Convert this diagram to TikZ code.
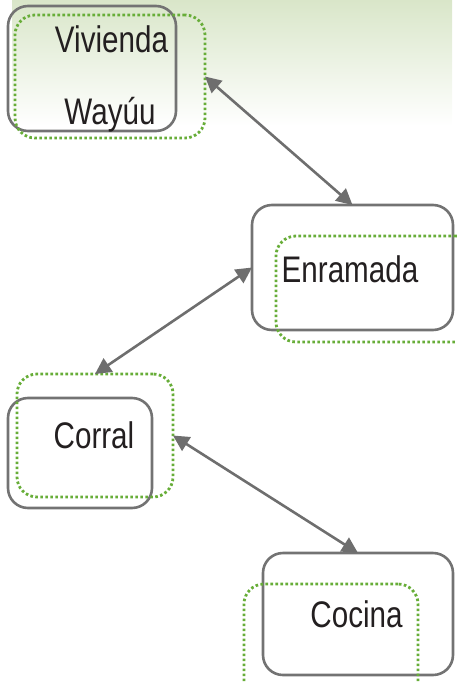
\documentclass[tikz,border=0pt]{standalone}
\usepackage{fontspec}
\usetikzlibrary{arrows.meta}
\newfontfamily\handfont[FakeStretch=0.8]{Liberation Sans}
\definecolor{boxgray}{HTML}{737373}
\definecolor{arrgray}{HTML}{6E6E6E}
\definecolor{dotgreen}{HTML}{67AD38}
\definecolor{txt}{HTML}{231F20}
\definecolor{bandtop}{HTML}{D9E6C9}
\begin{document}
\begin{tikzpicture}[x=1pt,y=-1pt,
  graybox/.style={draw=boxgray,line width=2.6pt,rounded corners=20pt,inner sep=0pt,outer sep=0pt},
  dotbox/.style={draw=dotgreen,line width=2.8pt,dash pattern=on 2.6pt off 2.4pt,line cap=butt,rounded corners=20pt,inner sep=0pt,outer sep=0pt},
  label/.style={inner sep=0pt,anchor=base,text=txt,font=\handfont\fontsize{37}{44}\selectfont},
  link/.style={draw=arrgray,line width=2.6pt,{Triangle[length=16pt,width=16pt]}-{Triangle[length=16pt,width=16pt]}}]
\useasboundingbox (0,0) rectangle (457,683);
\shade[top color=bandtop,bottom color=white] (12,0) rectangle (452,126);
% boxes
\node[graybox,minimum width=168pt,minimum height=125pt] (vivB) at (92,68.5) {};
\node[dotbox,minimum width=190pt,minimum height=123pt] (vivD) at (110,76.5) {};
\node[graybox,minimum width=201pt,minimum height=125pt] (enrB) at (352.5,267.5) {};
\node[dotbox,minimum width=200pt,minimum height=106pt] (enrD) at (376,289) {};
\node[graybox,minimum width=144pt,minimum height=110pt] (corB) at (80,453) {};
\node[dotbox,minimum width=156pt,minimum height=123pt] (corD) at (95,435.5) {};
\node[graybox,minimum width=190pt,minimum height=122pt] (cocB) at (358,614) {};
\node[dotbox,minimum width=174pt,minimum height=130pt] (cocD) at (331,649) {};
% labels
\node[label] (t1) at (111.5,52) {Vivienda};
\node[label] (t2) at (110,124) {Wayúu};
\node[label] (t3) at (350,282) {Enramada};
\node[label] (t4) at (94,448) {Corral};
\node[label] (t5) at (356.5,627) {Cocina};
% connectors
\draw[link] (vivD.east) -- (enrB.north);
\draw[link] (enrB.west) -- (corD.north);
\draw[link] (corD.east) -- (cocB.north);
\end{tikzpicture}
\end{document}
